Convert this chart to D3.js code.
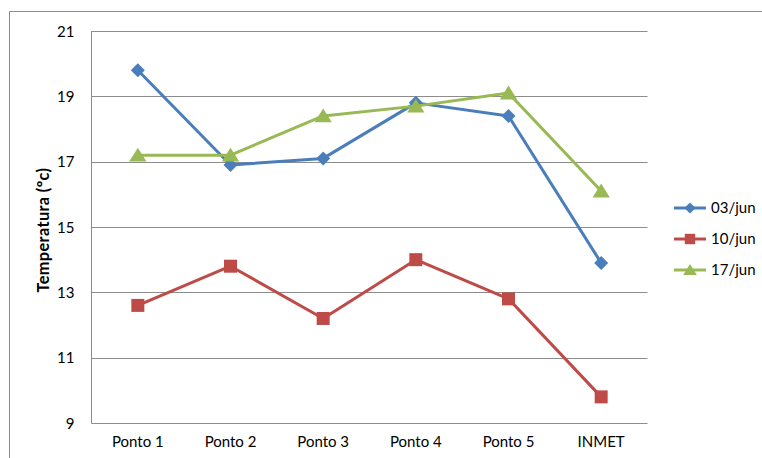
<!DOCTYPE html>
<html><head><meta charset="utf-8">
<script src="https://cdn.jsdelivr.net/npm/d3@7"></script>
<style>body{margin:0;background:#fff}svg{display:block;font-family:Lato,"Open Sans",sans-serif}</style>
</head><body><svg id="c" width="762" height="458"></svg>
<script>
const categories = ["Ponto 1","Ponto 2","Ponto 3","Ponto 4","Ponto 5","INMET"];
const s03 = [19.8,16.9,17.1,18.8,18.4,13.9];
const s10 = [12.6,13.8,12.2,14.0,12.8,9.8];
const s17 = [17.2,17.2,18.4,18.7,19.1,16.1];
const seriesNames = ["03/jun","10/jun","17/jun"];
const yTicks = [9,11,13,15,17,19,21];

const series = [
  {name:seriesNames[0], values:s03, color:"#4A7EBB", marker:"diamond"},
  {name:seriesNames[1], values:s10, color:"#BE4B48", marker:"square"},
  {name:seriesNames[2], values:s17, color:"#98B954", marker:"triangle"}
];

const svg = d3.select("#c");
const L=91.5, R=647.5, T=31, B=423;
svg.append("path").attr("d","M9.5,458V11.5H762").attr("fill","none").attr("stroke","#8c8c8c").attr("stroke-width",1);

const x = d3.scaleBand().domain(categories).range([L,R]);
const y = d3.scaleLinear().domain([9,21]).range([B,T]);

svg.append("g").selectAll("line").data(yTicks).join("line")
  .attr("x1",L).attr("x2",R).attr("y1",d=>Math.round(y(d))+0.5).attr("y2",d=>Math.round(y(d))+0.5)
  .attr("stroke","#8c8c8c").attr("stroke-width",1);
svg.append("line").attr("x1",L).attr("x2",L).attr("y1",T).attr("y2",B+0.5).attr("stroke","#8c8c8c");

const ya = svg.append("g").attr("transform",`translate(${L},0)`).call(d3.axisLeft(y).tickValues(yTicks).tickSize(0).tickPadding(17));
ya.select(".domain").remove();
ya.selectAll("text").attr("font-size",15).attr("font-family","Lato,sans-serif").attr("fill","#000").attr("dy","0.35em");

const xa = svg.append("g").attr("transform",`translate(0,${B})`).call(d3.axisBottom(x).tickSize(0).tickPadding(13));
xa.select(".domain").remove();
xa.selectAll("text").attr("font-size",15).attr("font-family","Lato,sans-serif").attr("fill","#000");

const title = svg.append("text").attr("transform",`translate(49,230) rotate(-90)`).attr("text-anchor","middle")
  .attr("font-size",14).attr("font-weight","bold").attr("letter-spacing",0.4).text("Temperatura (ºc)");
const w = title.node().getComputedTextLength();
title.attr("font-size", Math.min(17, 14*126/w));

const cx = d => x(d)+x.bandwidth()/2;
const shapes = {
  diamond: (r)=>`M0,${-r}L${r},0L0,${r}L${-r},0Z`,
  square: (r)=>`M${-r},${-r}H${r}V${r}H${-r}Z`,
  triangle: (r)=>`M0,${-r}L${r*1.15},${r*0.85}H${-r*1.15}Z`
};
const msize = {diamond:7, square:6.5, triangle:7.5};
const line = d3.line().x((d,i)=>cx(categories[i])).y(d=>y(d));

series.forEach(s=>{
  svg.append("path").attr("d",line(s.values)).attr("fill","none").attr("stroke",s.color).attr("stroke-width",3).attr("stroke-linejoin","round");
  svg.append("g").selectAll("path").data(s.values).join("path")
    .attr("transform",(d,i)=>`translate(${cx(categories[i])},${y(d)})`)
    .attr("d",shapes[s.marker](msize[s.marker])).attr("fill",s.color);
});

const lg = svg.append("g");
series.forEach((s,i)=>{
  const yy = 208 + i*31;
  lg.append("line").attr("x1",674).attr("x2",706).attr("y1",yy).attr("y2",yy).attr("stroke",s.color).attr("stroke-width",3);
  lg.append("path").attr("transform",`translate(690,${yy})`)
    .attr("d",shapes[s.marker](msize[s.marker]*0.8)).attr("fill",s.color);
  lg.append("text").attr("x",711).attr("y",yy).attr("dy","0.35em").attr("font-size",15).text(s.name);
});
</script></body></html>
